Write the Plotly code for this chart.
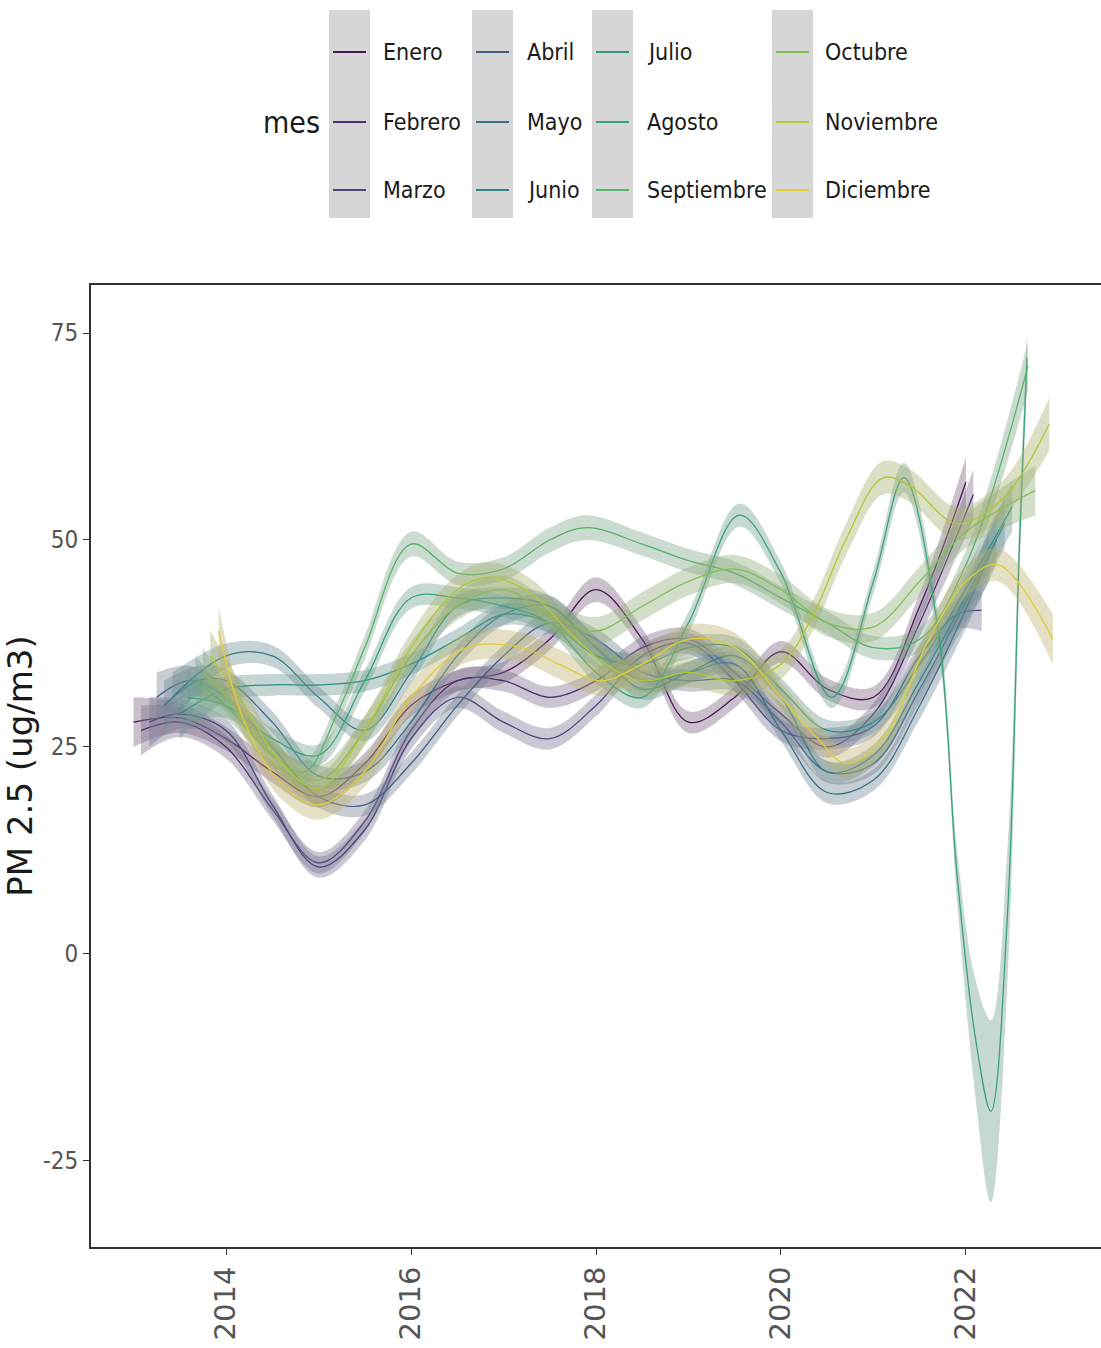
import plotly.graph_objects as go

months = ["Enero", "Febrero", "Marzo", "Abril", "Mayo", "Junio",
          "Julio", "Agosto", "Septiembre", "Octubre", "Noviembre", "Diciembre"]
colors = ["#440154", "#482173", "#433E85", "#38598C", "#2D708E", "#25858E",
          "#1E9B8A", "#2BB07F", "#51C56A", "#85D54A", "#C2DF23", "#FDE725"]

x_enero = [2013.0, 2013.5, 2014.0, 2014.5, 2015.0, 2015.5, 2016.0, 2016.5, 2017.0, 2017.5, 2018.0, 2018.5, 2019.0, 2019.5, 2020.0, 2020.5, 2021.0, 2021.5, 2022.0]
y_enero = [28, 28.5, 26, 22, 19, 23, 30, 33, 34, 38, 44, 38, 28, 31, 36.5, 32, 31, 42, 57]
se_enero = [3, 1.8, 1.4, 1.3, 1.3, 1.3, 1.3, 1.3, 1.3, 1.3, 1.5, 1.3, 1.3, 1.3, 1.3, 1.3, 1.3, 1.6, 3]

x_febrero = [2013.08, 2013.5, 2014.0, 2014.5, 2015.0, 2015.5, 2016.0, 2016.5, 2017.0, 2017.5, 2018.0, 2018.5, 2019.0, 2019.5, 2020.0, 2020.5, 2021.0, 2021.5, 2022.08]
y_febrero = [27, 28, 25, 17.5, 11, 16, 27, 33, 33, 31, 33, 37, 38, 34, 29, 25, 29, 40, 55.5]
se_febrero = [3, 1.8, 1.4, 1.3, 1.3, 1.3, 1.3, 1.3, 1.3, 1.3, 1.3, 1.3, 1.3, 1.3, 1.3, 1.3, 1.3, 1.6, 3]

x_marzo = [2013.17, 2013.5, 2014.0, 2014.5, 2015.0, 2015.5, 2016.0, 2016.5, 2017.0, 2017.5, 2018.0, 2018.5, 2019.0, 2019.5, 2020.0, 2020.5, 2021.0, 2021.5, 2021.9, 2022.17]
y_marzo = [28, 29, 27, 18, 10.5, 15, 26, 31, 28, 26, 30, 36, 37.5, 33, 27, 26, 27.5, 36, 41, 41.5]
se_marzo = [3, 1.8, 1.4, 1.3, 1.3, 1.3, 1.3, 1.3, 1.3, 1.3, 1.3, 1.3, 1.3, 1.3, 1.3, 1.3, 1.3, 1.4, 1.8, 2.5]

x_abril = [2013.25, 2013.6, 2014.0, 2014.5, 2015.0, 2015.5, 2016.0, 2016.5, 2017.0, 2017.5, 2018.0, 2018.5, 2019.0, 2019.5, 2020.0, 2020.5, 2021.0, 2021.5, 2022.25]
y_abril = [31, 33, 31, 25, 19, 18, 23, 30, 36, 40, 38, 34, 33, 33, 28, 22, 23, 32, 48]
se_abril = [3, 1.8, 1.4, 1.3, 1.3, 1.3, 1.3, 1.3, 1.3, 1.3, 1.3, 1.3, 1.3, 1.3, 1.3, 1.3, 1.3, 1.6, 3]

x_mayo = [2013.33, 2013.7, 2014.0, 2014.5, 2015.0, 2015.5, 2016.0, 2016.5, 2017.0, 2017.5, 2018.0, 2018.5, 2019.0, 2019.5, 2020.0, 2020.5, 2021.0, 2021.5, 2022.33]
y_mayo = [30, 33, 33, 28, 21.5, 22, 28, 36, 41, 42, 37, 33, 34, 35, 27, 19.5, 21, 30, 50]
se_mayo = [3, 1.8, 1.4, 1.3, 1.3, 1.3, 1.3, 1.3, 1.3, 1.3, 1.3, 1.3, 1.3, 1.3, 1.3, 1.3, 1.3, 1.6, 3]

x_junio = [2013.42, 2014.0, 2014.5, 2015.0, 2015.5, 2016.0, 2016.5, 2017.0, 2017.5, 2018.0, 2018.5, 2019.0, 2019.5, 2020.0, 2020.5, 2021.0, 2021.5, 2022.42]
y_junio = [31, 36, 36, 31, 27, 34, 42, 43, 42, 37, 32, 34, 36, 31, 22, 24, 33, 52]
se_junio = [3, 1.5, 1.3, 1.3, 1.3, 1.3, 1.3, 1.3, 1.3, 1.3, 1.3, 1.3, 1.3, 1.3, 1.3, 1.3, 1.6, 3]

x_julio = [2013.5, 2014.0, 2014.5, 2015.0, 2015.5, 2016.0, 2016.5, 2017.0, 2017.5, 2018.0, 2018.5, 2019.0, 2019.5, 2020.0, 2020.5, 2021.0, 2021.5, 2022.5]
y_julio = [29, 32, 32.5, 32.5, 33, 35, 38, 41, 40, 36, 35, 37, 37, 32, 27, 28, 35, 54]
se_julio = [3, 1.5, 1.3, 1.3, 1.3, 1.3, 1.3, 1.3, 1.3, 1.3, 1.3, 1.3, 1.3, 1.3, 1.3, 1.3, 1.6, 3]

x_agosto = [2013.58, 2014.0, 2014.5, 2015.0, 2015.5, 2016.0, 2016.5, 2017.0, 2017.5, 2018.0, 2018.5, 2019.0, 2019.55, 2020.0, 2020.55, 2021.0, 2021.33, 2021.7, 2021.9, 2022.1, 2022.27, 2022.45, 2022.58, 2022.66]
y_agosto = [31, 30, 26, 24, 33, 43, 43, 42, 40, 34, 31, 40, 53, 46, 31, 45, 57.5, 39, 10, -10, -19, 5, 50, 72]
se_agosto = [3, 1.5, 1.3, 1.3, 1.3, 1.3, 1.3, 1.3, 1.3, 1.3, 1.3, 1.3, 1.4, 1.3, 1.3, 1.4, 1.8, 2, 3, 7, 11, 8, 4, 3]

x_septiembre = [2013.67, 2014.0, 2014.5, 2014.85, 2015.2, 2015.5, 2016.0, 2016.5, 2017.0, 2017.5, 2017.9, 2018.5, 2019.0, 2019.5, 2020.0, 2020.5, 2021.0, 2021.5, 2022.0, 2022.67]
y_septiembre = [33, 30, 24, 22, 29, 37, 49.5, 46, 46.5, 50, 51.5, 49.5, 47.5, 46, 43, 40, 37, 38, 47, 71]
se_septiembre = [3, 1.6, 1.4, 1.4, 1.4, 1.4, 1.5, 1.4, 1.4, 1.5, 1.5, 1.4, 1.4, 1.4, 1.4, 1.4, 1.4, 1.5, 1.8, 3]

x_octubre = [2013.75, 2014.0, 2014.5, 2015.0, 2015.5, 2016.0, 2016.5, 2017.0, 2017.5, 2018.0, 2018.5, 2019.0, 2019.5, 2020.0, 2020.5, 2021.0, 2021.5, 2022.0, 2022.75]
y_octubre = [34, 31, 24, 21, 27, 36, 42, 44, 41, 39, 42, 45, 46.5, 44, 40, 39.5, 45, 51, 56]
se_octubre = [3, 1.8, 1.7, 1.7, 1.7, 1.7, 1.7, 1.7, 1.7, 1.7, 1.7, 1.7, 1.7, 1.7, 1.7, 1.7, 1.8, 2, 3]

x_noviembre = [2013.83, 2014.2, 2014.6, 2015.0, 2015.5, 2016.0, 2016.5, 2016.85, 2017.3, 2017.7, 2018.1, 2018.5, 2019.0, 2019.5, 2020.0, 2020.35, 2020.7, 2021.1, 2021.4, 2021.9, 2022.4, 2022.9]
y_noviembre = [36, 30, 23, 20, 27, 37, 44, 45.5, 43.5, 39, 35, 33, 34, 33, 35, 41, 50, 57.5, 56.5, 52, 55, 64]
se_noviembre = [3, 1.9, 1.8, 1.8, 1.8, 1.8, 1.8, 1.8, 1.8, 1.8, 1.8, 1.8, 1.8, 1.8, 1.8, 1.8, 1.9, 2, 2, 2, 2.2, 3.2]

x_diciembre = [2013.92, 2014.2, 2014.6, 2015.0, 2015.5, 2016.0, 2016.6, 2017.2, 2017.6, 2018.05, 2018.5, 2019.0, 2019.5, 2020.0, 2020.4, 2020.7, 2021.1, 2021.6, 2022.0, 2022.35, 2022.94]
y_diciembre = [39, 28, 20.5, 18, 22, 31, 37, 37, 35, 33, 35, 38, 37, 31, 26, 23, 26, 38, 45, 47, 38]
se_diciembre = [3, 1.9, 1.8, 1.8, 1.8, 1.8, 1.8, 1.8, 1.8, 1.8, 1.8, 1.8, 1.8, 1.8, 1.8, 1.8, 1.8, 1.8, 1.9, 2, 3]

series_x = [x_enero, x_febrero, x_marzo, x_abril, x_mayo, x_junio, x_julio, x_agosto, x_septiembre, x_octubre, x_noviembre, x_diciembre]
series_y = [y_enero, y_febrero, y_marzo, y_abril, y_mayo, y_junio, y_julio, y_agosto, y_septiembre, y_octubre, y_noviembre, y_diciembre]
series_se = [se_enero, se_febrero, se_marzo, se_abril, se_mayo, se_junio, se_julio, se_agosto, se_septiembre, se_octubre, se_noviembre, se_diciembre]

x_ticks = [2014, 2016, 2018, 2020, 2022]
y_ticks = [-25, 0, 25, 50, 75]

W, H = 1101, 1348
ML, MR, MT, MB = 91, 0, 285, 101


def hex_rgb(h):
    h = h.lstrip("#")
    return tuple(int(h[i:i + 2], 16) for i in (0, 2, 4))


def band_fill(h):
    r, g, b = hex_rgb(h)
    gr = 150
    w = 0.35
    return "rgba(%d,%d,%d,0.4)" % (r * w + gr * (1 - w), g * w + gr * (1 - w), b * w + gr * (1 - w))


def line_col(h):
    r, g, b = hex_rgb(h)
    gr = 110
    w = 0.8
    return "rgb(%d,%d,%d)" % (r * w + gr * (1 - w), g * w + gr * (1 - w), b * w + gr * (1 - w))


fig = go.Figure()
for name, col, xs, ys, ses in zip(months, colors, series_x, series_y, series_se):
    lo = [v - s for v, s in zip(ys, ses)]
    hi = [v + s for v, s in zip(ys, ses)]
    fig.add_trace(go.Scatter(x=xs, y=lo, mode="lines", line=dict(width=0, shape="spline", smoothing=1.0),
                             showlegend=False, hoverinfo="skip"))
    fig.add_trace(go.Scatter(x=xs, y=hi, mode="lines", line=dict(width=0, shape="spline", smoothing=1.0),
                             fill="tonexty", fillcolor=band_fill(col), showlegend=False, hoverinfo="skip"))
    fig.add_trace(go.Scatter(x=xs, y=ys, mode="lines", name=name,
                             line=dict(color=line_col(col), width=1.3, shape="spline", smoothing=1.0),
                             showlegend=False))


def px2x(px):
    return (px - ML) / (W - ML - MR)


def py2y(py):
    return (H - MB - py) / (H - MT - MB)


narrow = "DejaVu Sans Condensed, Liberation Sans Narrow, sans-serif"
shapes = []
annotations = []
col_keys = [329, 472, 592, 772]
col_labels = [383, 527, 647, 825]
row_y = [52, 122, 190]
for c in range(4):
    kx = col_keys[c]
    shapes.append(dict(type="rect", xref="paper", yref="paper",
                       x0=px2x(kx), x1=px2x(kx + 41), y0=py2y(218), y1=py2y(10),
                       fillcolor="#D6D6D6", line=dict(width=0), layer="above"))
    for r in range(3):
        i = c * 3 + r
        shapes.append(dict(type="line", xref="paper", yref="paper",
                           x0=px2x(kx + 4), x1=px2x(kx + 37), y0=py2y(row_y[r]), y1=py2y(row_y[r]),
                           line=dict(color=line_col(colors[i]), width=2.2), layer="above"))
        annotations.append(dict(text=months[i], xref="paper", yref="paper",
                                x=px2x(col_labels[c] - 2), y=py2y(row_y[r]), xanchor="left", yanchor="middle",
                                showarrow=False, font=dict(family=narrow, size=23, color="#1a1a1a")))
annotations.append(dict(text="mes", xref="paper", yref="paper", x=px2x(322), y=py2y(122),
                        xanchor="right", yanchor="middle", showarrow=False,
                        font=dict(family=narrow, size=30, color="#1a1a1a")))

fig.update_layout(
    width=W, height=H,
    margin=dict(l=ML, r=MR, t=MT, b=MB),
    paper_bgcolor="white", plot_bgcolor="white",
    showlegend=False,
    shapes=shapes, annotations=annotations,
    xaxis=dict(range=[2012.54, 2023.46], tickvals=x_ticks, ticktext=[str(v) for v in x_ticks],
               tickangle=-90, ticks="outside", ticklen=6, tickcolor="#333333", tickwidth=1.2,
               showline=True, linecolor="#333333", linewidth=2, mirror=True,
               showgrid=False, zeroline=False,
               tickfont=dict(family="DejaVu Sans", size=29, color="#555555")),
    yaxis=dict(range=[-35.4, 80.8], tickvals=y_ticks, ticktext=[str(v) for v in y_ticks],
               ticks="outside", ticklen=6, tickcolor="#333333", tickwidth=1.2,
               showline=True, linecolor="#333333", linewidth=2,
               showgrid=False, zeroline=False,
               tickfont=dict(family=narrow, size=24, color="#555555"),
               title=dict(text="PM 2.5 (ug/m3)", standoff=12,
                          font=dict(family="DejaVu Sans", size=34, color="#1a1a1a"))),
)

fig.write_html("out.html")
